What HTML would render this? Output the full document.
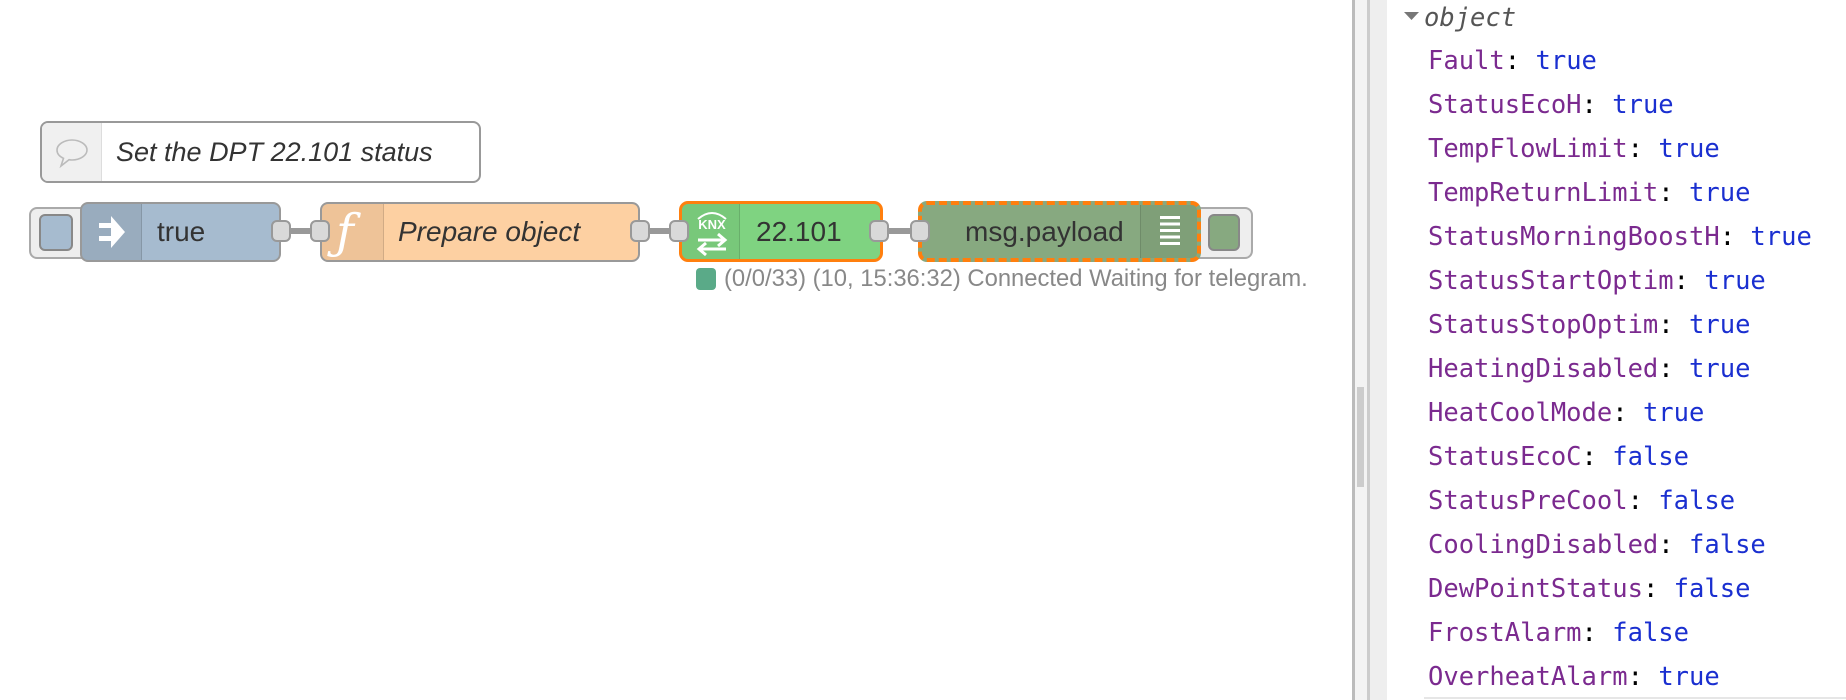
<!DOCTYPE html>
<html><head><meta charset="utf-8"><style>
body{margin:0;width:1846px;height:700px;background:#fff;position:relative;overflow:hidden;font-family:"Liberation Sans",sans-serif}
.a{position:absolute;box-sizing:border-box}
.port{position:absolute;width:20px;height:22px;background:#d9d9d9;border:2px solid #999;border-radius:6px;box-sizing:border-box;top:220px}
.wire{position:absolute;height:6px;background:#999;top:228px}
.mono{font-family:"DejaVu Sans Mono","Liberation Mono",monospace;font-size:25.5px}
.row{position:absolute;left:1428px;height:44px;line-height:44px;white-space:pre}
.k{color:#7b2a8f}.v{color:#1a2fd0}
.lbl{position:absolute;top:0;line-height:55px;font-size:28px;color:#333;white-space:nowrap}
</style></head><body>
<!-- comment -->
<div class="a" style="left:40px;top:121px;width:441px;height:62px;border:2px solid #999;border-radius:8px;background:#fff;overflow:hidden">
 <div class="a" style="left:0;top:0;width:60px;height:58px;background:#f0f0f0;border-right:1px solid #ddd"></div>
 <svg class="a" style="left:12px;top:13px" width="36" height="34" viewBox="0 0 36 34"><path d="M18 4C10 4 3 8.5 3 14c0 3.5 2.5 6.5 6.5 8.3L7 30l8-6.3c1 .2 2 .3 3 .3 8 0 15-4.5 15-10S26 4 18 4z" fill="none" stroke="#bbb" stroke-width="1.6"/></svg>
 <div class="lbl" style="left:74px;line-height:58px;font-size:27px;font-style:italic">Set the DPT 22.101 status</div>
</div>
<!-- inject -->
<div class="a" style="left:29px;top:207px;width:60px;height:52px;border:2px solid #aaa;border-radius:8px;background:#eee"></div>
<div class="a" style="left:39px;top:214px;width:34px;height:37px;border:2px solid #888;border-radius:6px;background:#a6bbcf"></div>
<div class="a" style="left:80px;top:202px;width:201px;height:60px;border:2px solid #999;border-radius:8px;background:#a6bbcf;overflow:hidden">
 <div class="a" style="left:0;top:0;width:60px;height:56px;background:rgba(0,0,0,0.08);border-right:1px solid rgba(0,0,0,.12)"></div>
 <svg class="a" style="left:15px;top:10px" width="30" height="36" viewBox="0 0 30 36"><path d="M2 9h12V2l14 16-14 16v-7H2v-5h12v-8H2z" fill="#fff"/></svg>
 <div class="lbl" style="left:75px">true</div>
</div>
<div class="port" style="left:271px"></div>
<div class="wire" style="left:289px;width:23px"></div>
<!-- function -->
<div class="a" style="left:320px;top:202px;width:320px;height:60px;border:2px solid #999;border-radius:8px;background:#fdd0a2;overflow:hidden">
 <div class="a" style="left:0;top:0;width:62px;height:56px;background:rgba(0,0,0,0.06);border-right:1px solid rgba(0,0,0,.12)"></div>
 <div class="a" style="left:14px;top:0px;font-size:48px;font-family:'DejaVu Serif',serif;font-style:italic;color:#fff;line-height:56px">ƒ</div>
 <div class="lbl" style="left:76px;font-style:italic">Prepare object</div>
</div>
<div class="port" style="left:310px"></div>
<div class="port" style="left:630px"></div>
<div class="wire" style="left:648px;width:23px"></div>
<!-- knx -->
<div class="a" style="left:679px;top:201px;width:204px;height:61px;border:3px solid #ff7f0e;border-radius:9px;background:#7fd381;overflow:hidden">
 <div class="a" style="left:0;top:0;width:58px;height:55px;background:rgba(0,0,0,0.05);border-right:1px solid rgba(0,0,0,.12)"></div>
 <svg class="a" style="left:8px;top:3px" width="44" height="50" viewBox="0 0 44 50">
  <path d="M8 12 Q22 0 36 12" fill="none" stroke="#fff" stroke-width="2"/>
  <text x="22" y="22" text-anchor="middle" font-family="Liberation Sans" font-weight="bold" font-size="13" fill="#fff">KNX</text>
  <path d="M8 33h26M28 27l7 6-7 6M36 42H10M16 36l-7 6 7 6" fill="none" stroke="#fff" stroke-width="3"/>
 </svg>
 <div class="lbl" style="left:74px">22.101</div>
</div>
<div class="port" style="left:669px"></div>
<div class="port" style="left:869px"></div>
<div class="wire" style="left:887px;width:25px"></div>
<!-- debug -->
<div class="a" style="left:1189px;top:207px;width:64px;height:52px;border:2px solid #aaa;border-radius:8px;background:#eee"></div>
<div class="a" style="left:1208px;top:214px;width:32px;height:37px;border:2px solid #888;border-radius:6px;background:#87a980"></div>
<div class="a" style="left:918px;top:201px;width:283px;height:61px;border:4px dashed #ff7f0e;border-radius:9px;background:#87a980;overflow:hidden">
 <div class="a" style="right:0;top:0;width:57px;height:53px;background:rgba(0,0,0,0.06);border-left:1px solid rgba(0,0,0,.12)"></div>
 <div class="a" style="right:17px;top:11px;width:20px;height:32px;background:repeating-linear-gradient(#fff 0 3px,transparent 3px 6.5px)"></div>
 <div class="lbl" style="left:43px;line-height:53px">msg.payload</div>
</div>
<div class="port" style="left:910px"></div>
<!-- status -->
<div class="a" style="left:696px;top:268px;width:20px;height:22px;border-radius:4px;background:#5aaa88"></div>
<div class="a" style="left:724px;top:264px;font-size:23.8px;color:#888;line-height:30px;white-space:nowrap">(0/0/33) (10, 15:36:32) Connected Waiting for telegram.</div>
<!-- panel -->
<div class="a" style="left:1352px;top:0;width:3px;height:700px;background:#bbb"></div>
<div class="a" style="left:1355px;top:0;width:12px;height:700px;background:#f3f3f3"></div>
<div class="a" style="left:1357px;top:387px;width:7px;height:100px;background:#ccc"></div>
<div class="a" style="left:1367px;top:0;width:3px;height:700px;background:#ccc"></div>
<div class="a" style="left:1370px;top:0;width:17px;height:700px;background:#eee"></div>
<div class="a" style="left:1424px;top:697px;width:422px;height:2px;background:#e6e6e6"></div>
<svg class="a" style="left:1404px;top:12px" width="16" height="10"><path d="M0 0h15l-7.5 8z" fill="#777"/></svg>
<div class="row mono" style="left:1424px;top:-4px;font-style:italic;color:#555">object</div>
<div class="mono">
<div class="row" style="top:39px"><span class="k">Fault</span>: <span class="v">true</span></div>
<div class="row" style="top:83px"><span class="k">StatusEcoH</span>: <span class="v">true</span></div>
<div class="row" style="top:127px"><span class="k">TempFlowLimit</span>: <span class="v">true</span></div>
<div class="row" style="top:171px"><span class="k">TempReturnLimit</span>: <span class="v">true</span></div>
<div class="row" style="top:215px"><span class="k">StatusMorningBoostH</span>: <span class="v">true</span></div>
<div class="row" style="top:259px"><span class="k">StatusStartOptim</span>: <span class="v">true</span></div>
<div class="row" style="top:303px"><span class="k">StatusStopOptim</span>: <span class="v">true</span></div>
<div class="row" style="top:347px"><span class="k">HeatingDisabled</span>: <span class="v">true</span></div>
<div class="row" style="top:391px"><span class="k">HeatCoolMode</span>: <span class="v">true</span></div>
<div class="row" style="top:435px"><span class="k">StatusEcoC</span>: <span class="v">false</span></div>
<div class="row" style="top:479px"><span class="k">StatusPreCool</span>: <span class="v">false</span></div>
<div class="row" style="top:523px"><span class="k">CoolingDisabled</span>: <span class="v">false</span></div>
<div class="row" style="top:567px"><span class="k">DewPointStatus</span>: <span class="v">false</span></div>
<div class="row" style="top:611px"><span class="k">FrostAlarm</span>: <span class="v">false</span></div>
<div class="row" style="top:655px"><span class="k">OverheatAlarm</span>: <span class="v">true</span></div>
</div>
</body></html>
